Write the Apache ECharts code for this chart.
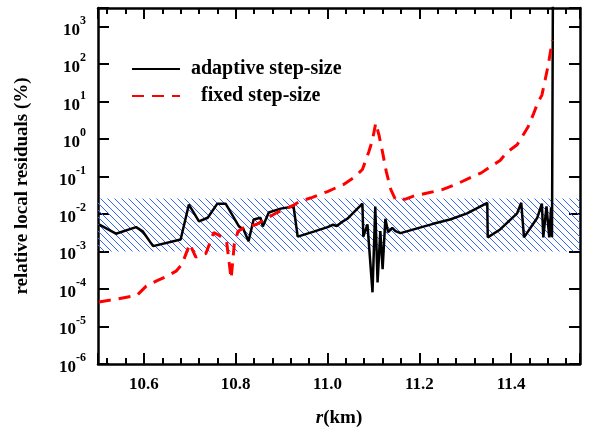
<!DOCTYPE html>
<html>
<head>
    <meta charset="utf-8">
    <title>relative local residuals</title>
    <script src="https://cdn.jsdelivr.net/npm/echarts@6.0.0/dist/echarts.min.js"></script>
    <style>
        html, body { margin: 0; padding: 0; background: #fff; }
        #main { width: 591px; height: 433px; }
    </style>
</head>
<body>
<div id="main"></div>
<script type="text/javascript">
    // adaptive step-size (black solid)
    var adaptiveR = [10.502, 10.539, 10.583, 10.598, 10.62, 10.68, 10.698, 10.72, 10.739, 10.76, 10.778,
        10.807, 10.817, 10.828, 10.839, 10.854, 10.859, 10.872, 10.898, 10.926, 10.935, 10.97, 11.0,
        11.012, 11.02, 11.03, 11.043, 11.076, 11.078, 11.087, 11.098, 11.104, 11.109, 11.115, 11.12,
        11.126, 11.132, 11.141, 11.148, 11.159, 11.23, 11.267, 11.304, 11.348, 11.349, 11.376, 11.413,
        11.422, 11.428, 11.457, 11.467, 11.47, 11.477, 11.483, 11.487, 11.489, 11.491];
    var adaptiveRes = [5.3e-3, 3.0e-3, 4.5e-3, 3.4e-3, 1.4e-3, 2.1e-3, 1.8e-2, 6.4e-3, 8.0e-3, 1.9e-2, 1.9e-2,
        4.7e-3, 3.9e-3, 1.9e-3, 7.2e-3, 8.0e-3, 4.7e-3, 1.1e-2, 1.4e-2, 1.6e-2, 2.5e-3, 3.4e-3, 4.5e-3,
        5.2e-3, 4.8e-3, 6.0e-3, 7.5e-3, 1.9e-2, 2.5e-3, 5.3e-3, 8.2e-5, 1.6e-2, 1.5e-4, 3.5e-3, 3.4e-4,
        7.5e-3, 3.3e-3, 4.3e-3, 3.5e-3, 3.1e-3, 5.5e-3, 7.2e-3, 1.05e-2, 2.0e-2, 2.4e-3, 3.9e-3, 1.05e-2,
        2.0e-2, 2.4e-3, 8.0e-3, 1.9e-2, 2.4e-3, 1.6e-2, 2.4e-3, 1.5e-2, 2.4e-3, 1e4];

    // fixed step-size (red dashed)
    var fixedR = [10.502, 10.54, 10.585, 10.605, 10.63, 10.65, 10.67, 10.683, 10.7, 10.713, 10.735,
        10.752, 10.762, 10.78, 10.79, 10.797, 10.805, 10.82, 10.845, 10.87, 10.89, 10.925, 10.94, 10.967,
        11.0, 11.035, 11.06, 11.076, 11.09, 11.098, 11.105, 11.112, 11.12, 11.128, 11.138, 11.148,
        11.17, 11.19, 11.22, 11.25, 11.28, 11.31, 11.335, 11.355, 11.376, 11.39, 11.413, 11.424, 11.437,
        11.448, 11.458, 11.467, 11.474, 11.48, 11.49];
    var fixedRes = [4.5e-5, 5.4e-5, 6.8e-5, 1.2e-4, 1.7e-4, 2.2e-4, 3.0e-4, 4.6e-4, 1.6e-3, 7.1e-4, 8.9e-4,
        3.2e-3, 2.8e-3, 1.9e-3, 1.9e-4, 1.6e-3, 3.5e-3, 4.5e-3, 5.3e-3, 8.0e-3, 1.1e-2, 1.7e-2, 2.2e-2, 2.8e-2,
        4.0e-2, 6.2e-2, 0.1, 0.155, 0.46, 0.96, 2.7, 1.3, 0.44, 0.136, 4.5e-2, 2.45e-2,
        2.5e-2, 3.1e-2, 3.7e-2, 4.5e-2, 6.2e-2, 9.3e-2, 0.126, 0.185, 0.27, 0.44, 0.71, 1.16, 2.14,
        4.5, 9.3, 15, 38, 85, 436];

    // hatched tolerance band
    var bandLow = 1e-3;
    var bandHigh = 2.6e-2;

    var serif = 'Liberation Serif, Times New Roman, serif';

    function pairs(xs, ys) {
        var out = [];
        for (var i = 0; i < xs.length; i++) out.push([xs[i], ys[i]]);
        return out;
    }

    // diagonal hatch pattern
    var hatch = document.createElement('canvas');
    hatch.width = 7;
    hatch.height = 7;
    var hctx = hatch.getContext('2d');
    hctx.strokeStyle = '#3366ff';
    hctx.lineWidth = 1;
    hctx.beginPath();
    hctx.moveTo(0, 0); hctx.lineTo(7, 7);
    hctx.moveTo(-1, 6); hctx.lineTo(1, 8);
    hctx.moveTo(6, -1); hctx.lineTo(8, 1);
    hctx.stroke();

    var myChart = echarts.init(document.getElementById('main'));

    var xCommon = {
        type: 'value',
        min: 10.5,
        max: 11.55,
        axisLine: {show: true, lineStyle: {color: '#000', width: 2.5}},
        axisTick: {show: true, inside: true, length: 11, lineStyle: {color: '#000', width: 2}},
        minorTick: {show: true, splitNumber: 5, length: 6, lineStyle: {color: '#000', width: 2}},
        splitLine: {show: false},
        minorSplitLine: {show: false}
    };

    var yCommon = {
        type: 'log',
        logBase: 10,
        min: 1e-6,
        max: 3162.28,
        splitNumber: 9,
        axisLine: {show: true, lineStyle: {color: '#000', width: 2.5}},
        axisTick: {show: true, inside: true, length: 11, lineStyle: {color: '#000', width: 2}},
        splitLine: {show: false}
    };

    var option = {
        animation: false,
        grid: {left: 98, right: 11, top: 8, bottom: 68},
        legend: {
            left: 126,
            top: 54,
            orient: 'vertical',
            itemWidth: 48,
            itemHeight: 14,
            itemGap: 7,
            data: ['adaptive step-size', 'fixed step-size'],
            itemStyle: {opacity: 0},
            formatter: function (name) {
                return name === 'fixed step-size' ? '  ' + name : name;
            },
            textStyle: {fontFamily: serif, fontWeight: 'bold', fontSize: 20, color: '#000', padding: [0, 0, 0, 6]}
        },
        xAxis: [
            Object.assign({}, xCommon, {
                position: 'bottom',
                name: '{i|r}{n|(km)}',
                nameLocation: 'middle',
                nameGap: 45,
                nameTextStyle: {
                    rich: {
                        i: {fontFamily: serif, fontWeight: 'bold', fontStyle: 'italic', fontSize: 19, color: '#000'},
                        n: {fontFamily: serif, fontWeight: 'bold', fontSize: 19, color: '#000'}
                    }
                },
                axisLabel: {
                    margin: 12,
                    fontFamily: serif, fontWeight: 'bold', fontSize: 17, color: '#000',
                    formatter: function (v) {
                        return Math.abs(v * 5 - Math.round(v * 5)) < 1e-6 ? v.toFixed(1) : '';
                    }
                }
            }),
            Object.assign({}, xCommon, {position: 'top', axisLabel: {show: false}})
        ],
        yAxis: [
            Object.assign({}, yCommon, {
                position: 'left',
                name: 'relative local residuals (%)',
                nameLocation: 'middle',
                nameGap: 66,
                nameTextStyle: {fontFamily: serif, fontWeight: 'bold', fontSize: 19, color: '#000'},
                axisLabel: {
                    margin: 12,
                    formatter: function (v) {
                        var e = Math.log(v) / Math.LN10;
                        if (Math.abs(e - Math.round(e)) > 1e-6) return '';
                        return '{b|10}{s|' + Math.round(e) + '}';
                    },
                    rich: {
                        b: {fontFamily: serif, fontWeight: 'bold', fontSize: 17, color: '#000', verticalAlign: 'bottom'},
                        s: {fontFamily: serif, fontWeight: 'bold', fontSize: 12, color: '#000', verticalAlign: 'top', padding: [0, 0, 12, 0]}
                    }
                }
            }),
            Object.assign({}, yCommon, {position: 'right', axisLabel: {show: false}})
        ],
        series: [
            {
                name: 'adaptive step-size',
                type: 'line',
                xAxisIndex: 0,
                yAxisIndex: 0,
                showSymbol: false,
                symbol: 'none',
                data: pairs(adaptiveR, adaptiveRes),
                lineStyle: {color: '#000', width: 2.5},
                itemStyle: {color: '#000'},
                z: 3,
                markArea: {
                    silent: true,
                    label: {show: false},
                    itemStyle: {color: {image: hatch, repeat: 'repeat'}},
                    data: [[{yAxis: bandLow}, {yAxis: bandHigh}]]
                }
            },
            {
                name: 'fixed step-size',
                type: 'line',
                xAxisIndex: 0,
                yAxisIndex: 0,
                showSymbol: false,
                symbol: 'none',
                data: pairs(fixedR, fixedRes),
                lineStyle: {color: '#ff0000', width: 3, type: [12, 8]},
                itemStyle: {color: '#ff0000'},
                z: 4
            }
        ]
    };

    myChart.setOption(option);
</script>
</body>
</html>
